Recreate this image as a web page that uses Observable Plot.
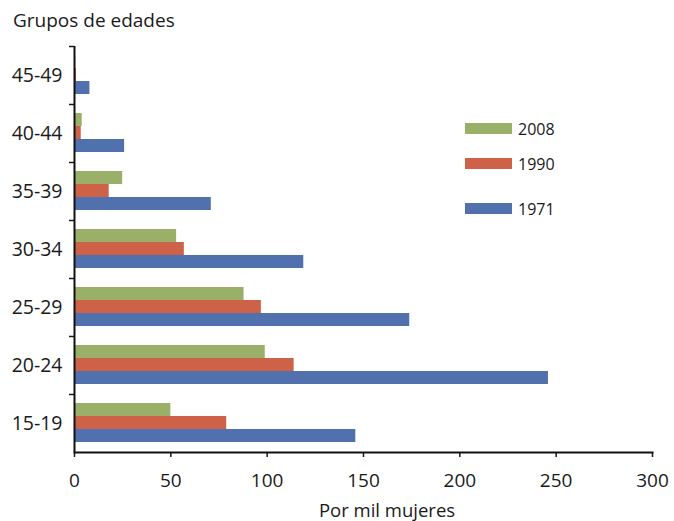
<!DOCTYPE html>
<html>
<head>
<meta charset="utf-8">
<script src="https://cdn.jsdelivr.net/npm/d3@7"></script>
<script src="https://cdn.jsdelivr.net/npm/@observablehq/plot@0.6"></script>
<style>
  html, body { margin: 0; padding: 0; background: #fff; }
  #wrap { position: relative; width: 674px; height: 521px; font-family: "Open Sans", sans-serif; color: #1a1a1a; }
  #title { height: 40px; line-height: 41px; font-size: 19px; padding-left: 13px; white-space: nowrap; }
  #xlabel { position: absolute; left: 0; top: 499px; width: 774px; height: 21px; line-height: 21px; font-size: 18.5px; text-align: center; white-space: nowrap; }
  .sw { position: absolute; left: 465px; width: 47px; height: 11px; }
  .lg { position: absolute; left: 518px; font-size: 16px; line-height: 20px; }
  svg { display: block; }
</style>
</head>
<body>
<div id="wrap">
  <div id="title"></div>
  <div id="chart"></div>
  <div id="xlabel"></div>
  <div id="legend"></div>
</div>
<script>
// ---- data ----
const titleText = "Grupos de edades";
const xLabelText = "Por mil mujeres";
const ageGroups = ["45-49", "40-44", "35-39", "30-34", "25-29", "20-24", "15-19"];
const years = ["2008", "1990", "1971"];
const values2008 = [0.6, 4, 25, 53, 88, 99, 50];
const values1990 = [1, 3.5, 18, 57, 97, 114, 79];
const values1971 = [8, 26, 71, 119, 174, 246, 146];
const xTicks = [0, 50, 100, 150, 200, 250, 300];
const colors = ["#9aaf68", "#cd6248", "#5071ae"];

const seriesValues = [values2008, values1990, values1971];

// ---- layout ----
const W = 674, H = 459;
const mTop = 6, mBottom = 47, mLeft = 74, mRight = 22;
const band = (H - mTop - mBottom) / ageGroups.length;
const gapTop = 9, barH = 13;

document.getElementById("title").textContent = titleText;
document.getElementById("xlabel").textContent = xLabelText;

const barMarks = years.map((yr, j) => {
  const rows = ageGroups.map((a, i) => ({age: a, year: yr, value: seriesValues[j][i]}));
  return Plot.barX(rows, {
    x: "value", y: "age", fill: "year",
    insetTop: gapTop + j * barH,
    insetBottom: band - gapTop - (j + 1) * barH
  });
});

const chart = Plot.plot({
  width: W, height: H,
  marginTop: mTop, marginBottom: mBottom, marginLeft: mLeft, marginRight: mRight,
  style: {fontFamily: "'Open Sans', sans-serif", fontSize: "19px", color: "#1a1a1a", overflow: "visible"},
  x: {domain: [0, 300], axis: null},
  y: {domain: ageGroups, padding: 0, axis: null},
  color: {domain: years, range: colors},
  marks: [
    ...barMarks,
    Plot.axisX({ticks: xTicks, tickSize: 5, tickPadding: 16, strokeWidth: 1.5, label: null, fontSize: 19}),
    Plot.axisY({tickSize: 0, tickPadding: 12, label: null, fontSize: 19.5}),
    Plot.axisY({tickSize: 5, strokeWidth: 1.5, tickFormat: () => "", label: null, dy: -band / 2}),
    Plot.ruleX([0], {stroke: "#111", strokeWidth: 2}),
    Plot.frame({anchor: "bottom", stroke: "#111", strokeWidth: 2})
  ]
});
document.getElementById("chart").appendChild(chart);

// ---- legend ----
const swTops = [123, 158, 203];
const legend = document.getElementById("legend");
years.forEach((yr, j) => {
  const s = document.createElement("div");
  s.className = "sw";
  s.style.top = swTops[j] + "px";
  s.style.background = colors[j];
  legend.appendChild(s);
  const t = document.createElement("div");
  t.className = "lg";
  t.style.top = (swTops[j] - 4.5) + "px";
  t.textContent = yr;
  legend.appendChild(t);
});
</script>
</body>
</html>
